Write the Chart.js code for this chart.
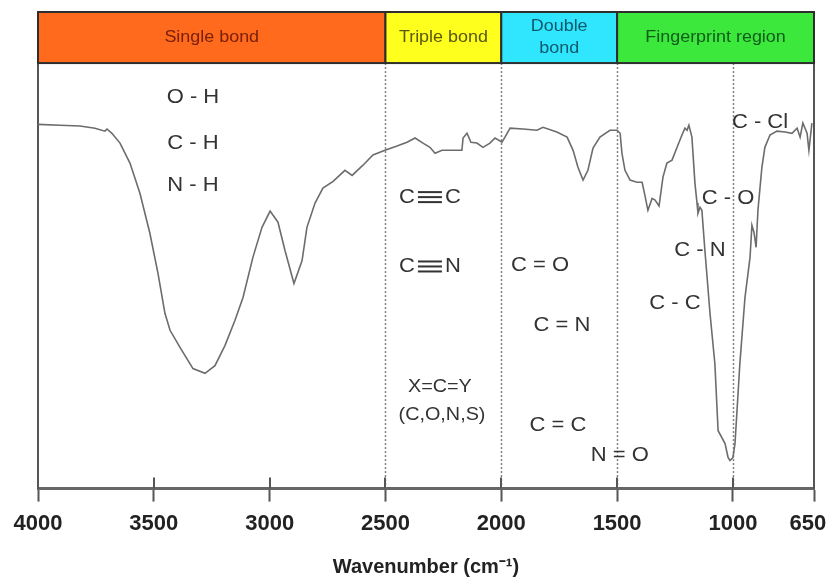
<!DOCTYPE html>
<html>
<head>
<meta charset="utf-8">
<script src="https://cdn.jsdelivr.net/npm/chart.js@4/dist/chart.umd.min.js"></script>
<style>
  html, body { margin: 0; padding: 0; background: #fff; }
  #irChart { display: block; }
</style>
</head>
<body>
<canvas id="irChart" width="832" height="585"></canvas>
<script>
// IR spectrum (transmittance in arbitrary %)
const wavenumbers = [4000, 3905, 3819, 3754, 3711, 3702, 3681, 3646, 3603, 3560, 3517, 3482, 3452, 3430, 3387, 3331, 3279, 3236, 3193, 3150,
  3115, 3072, 3033, 2998, 2964, 2934, 2895, 2860, 2839, 2804, 2770, 2726, 2675, 2644, 2597, 2554, 2502, 2450, 2407, 2372,
  2338, 2308, 2286, 2256, 2221, 2170, 2165, 2148, 2131, 2105, 2079, 2049, 2027, 1997, 1984, 1962, 1906, 1846, 1820, 1760,
  1716, 1690, 1669, 1647, 1626, 1604, 1574, 1531, 1500, 1487, 1479, 1466, 1444, 1414, 1392, 1380, 1367, 1349, 1336, 1319,
  1302, 1285, 1263, 1241, 1220, 1207, 1198, 1190, 1177, 1164, 1155, 1151, 1142, 1134, 1121, 1099, 1078, 1064, 1034, 1021,
  1013, 1000, 991, 970, 948, 926, 918, 909, 900, 892, 875, 862, 840, 810, 775, 745, 723, 710, 698, 680, 672, 659];
const transmittance = [85.6, 85.4, 85.2, 84.7, 84.0, 84.5, 83.5, 81.2, 76.5, 69.4, 60.0, 50.6, 41.2, 37.2, 33.2, 28.2, 27.1, 28.9, 33.6, 39.5,
  44.9, 54.4, 61.4, 65.2, 62.6, 56.0, 48.2, 53.6, 61.4, 67.1, 70.6, 72.2, 74.8, 73.6, 76.0, 78.4, 79.5, 80.5, 81.4, 82.4,
  81.2, 80.2, 78.8, 79.5, 79.5, 79.5, 82.4, 83.5, 81.4, 81.2, 80.2, 81.2, 82.4, 81.4, 82.6, 84.7, 84.5, 84.2, 84.9, 83.8,
  82.6, 79.5, 75.5, 72.5, 74.8, 80.0, 82.6, 84.2, 84.2, 83.5, 78.8, 74.8, 72.5, 72.0, 72.0, 68.9, 65.4, 68.2, 67.8, 66.4,
  73.2, 76.5, 77.2, 80.2, 83.1, 84.7, 84.2, 85.4, 82.6, 71.8, 67.1, 64.7, 66.1, 65.4, 56.0, 41.2, 29.4, 13.6, 10.6, 7.3,
  6.6, 7.3, 10.6, 29.4, 44.9, 54.4, 61.9, 60.2, 56.7, 65.4, 75.5, 80.2, 83.1, 84.0, 83.8, 83.5, 84.7, 82.6, 85.9, 83.5, 79.5, 85.9];

const xTicks = [4000, 3500, 3000, 2500, 2000, 1500, 1000, 650];
const dividers = [2500, 2000, 1500, 1000];

// Region bar across the top
const bandEdges = [4000, 2500, 2000, 1500, 650];
const bandNames = [["Single bond"], ["Triple bond"], ["Double", "bond"], ["Fingerprint region"]];
const bandColors = ["#ff6a1c", "#ffff1e", "#30e6ff", "#3ce83c"];
const bandTextColors = ["#7a200c", "#5a5812", "#0f5a6a", "#115c1c"];

// Bond labels (wavenumber, transmittance)
const bondText = ["O - H", "C - H", "N - H", "C ≡ C", "C ≡ N", "X=C=Y", "(C,O,N,S)", "C = O", "C = N", "C = C", "N = O",
  "C - Cl", "C - O", "C - N", "C - C"];
const bondX = [3331, 3331, 3331, 2308, 2308, 2265, 2256, 1833, 1738, 1755, 1488, 883, 1021, 1142, 1250];
const bondY = [92.0, 81.2, 71.3, 68.5, 52.2, 23.8, 17.2, 52.5, 38.4, 14.8, 7.8, 86.1, 68.2, 56.0, 43.5];

const points = wavenumbers.map((w, i) => ({ x: w, y: transmittance[i] }));

// draws text, stretching any "≡" sideways like the wide bars in the picture
function drawBondText(ctx, t, cx, cy) {
    const parts = t.split("≡");
    if (parts.length === 1) {
        ctx.save();
        ctx.translate(cx, cy);
        ctx.scale(1.1, 1);
        ctx.fillText(t, 0, 0);
        ctx.restore();
        return;
    }
    const left = parts[0].trim(), right = parts[1].trim();
    const wl = ctx.measureText(left).width * 1.1;
    const wr = ctx.measureText(right).width * 1.1;
    const barW = 24, gap = 3;
    const total = wl + gap + barW + gap + wr;
    const x0 = cx - total / 2;
    ctx.save();
    ctx.textAlign = "left";
    ctx.translate(x0, cy);
    ctx.scale(1.1, 1);
    ctx.fillText(left, 0, 0);
    ctx.restore();
    const bx = x0 + wl + gap;
    for (let k = -1; k <= 1; k++) {
        ctx.fillRect(bx, cy - 1 + k * 5, barW, 2);
    }
    ctx.save();
    ctx.textAlign = "left";
    ctx.translate(bx + barW + gap, cy);
    ctx.scale(1.1, 1);
    ctx.fillText(right, 0, 0);
    ctx.restore();
}

const overlay = {
    id: "overlay",
    beforeDatasetsDraw(chart) {
        const { ctx, scales: { x, y } } = chart;
        ctx.save();
        ctx.strokeStyle = "#808080";
        ctx.lineWidth = 1.5;
        ctx.setLineDash([2, 2]);
        dividers.forEach(v => {
            const px = Math.round(x.getPixelForValue(v)) + 0.5;
            ctx.beginPath();
            ctx.moveTo(px, y.getPixelForValue(100));
            ctx.lineTo(px, y.getPixelForValue(0));
            ctx.stroke();
        });
        ctx.restore();
    },
    afterDatasetsDraw(chart) {
        const { ctx, scales: { x, y } } = chart;
        const top = y.getPixelForValue(112);
        const bottom = y.getPixelForValue(100);

        // colored regions
        ctx.save();
        for (let i = 0; i < bandNames.length; i++) {
            const x1 = x.getPixelForValue(bandEdges[i]);
            const x2 = x.getPixelForValue(bandEdges[i + 1]);
            ctx.fillStyle = bandColors[i];
            ctx.fillRect(x1, top, x2 - x1, bottom - top);
            ctx.strokeStyle = "#2e2e2e";
            ctx.lineWidth = 2;
            ctx.strokeRect(x1, top, x2 - x1, bottom - top);

            ctx.fillStyle = bandTextColors[i];
            ctx.font = "16px 'Liberation Sans', Arial, sans-serif";
            ctx.textAlign = "center";
            ctx.textBaseline = "middle";
            const lines = bandNames[i];
            const cx = (x1 + x2) / 2;
            const cy = (top + bottom) / 2;
            lines.forEach((t, k) => {
                ctx.save();
                ctx.translate(cx, cy + (k - (lines.length - 1) / 2) * 22);
                ctx.scale(1.12, 1);
                ctx.fillText(t, 0, 0);
                ctx.restore();
            });
        }

        // upper half of the tick marks
        ctx.strokeStyle = "#555";
        ctx.lineWidth = 2;
        const axisY = y.getPixelForValue(0);
        xTicks.forEach(v => {
            const px = Math.round(x.getPixelForValue(v));
            ctx.beginPath();
            ctx.moveTo(px, axisY);
            ctx.lineTo(px, axisY - 11);
            ctx.stroke();
        });

        // bond labels
        ctx.fillStyle = "#333";
        ctx.textAlign = "center";
        ctx.textBaseline = "middle";
        bondText.forEach((t, i) => {
            ctx.font = (i === 5 || i === 6 ? "18px" : "20px") + " 'Liberation Sans', Arial, sans-serif";
            drawBondText(ctx, t, x.getPixelForValue(bondX[i]), y.getPixelForValue(bondY[i]));
        });
        ctx.restore();
    }
};

Chart.defaults.font.family = "'Liberation Sans', Arial, sans-serif";

new Chart(document.getElementById("irChart"), {
    type: "line",
    data: {
        datasets: [{
            data: points,
            borderColor: "#6c6c6c",
            borderWidth: 1.6,
            pointRadius: 0,
            tension: 0,
            fill: false
        }]
    },
    options: {
        responsive: false,
        animation: false,
        devicePixelRatio: 1,
        layout: { padding: { left: 38, right: 0, top: 12, bottom: 4 } },
        plugins: { legend: { display: false }, tooltip: { enabled: false } },
        scales: {
            x: {
                type: "linear",
                reverse: true,
                min: 650,
                max: 4000,
                afterBuildTicks: axis => { axis.ticks = xTicks.map(v => ({ value: v })); },
                afterFit: axis => { axis.paddingLeft = 0; axis.paddingRight = 18; },
                ticks: {
                    // the last label sits a little inside the right edge
                    callback: v => v === 650 ? "650\u00a0\u00a0" : String(v),
                    color: "#222",
                    font: { size: 22, weight: "bold" },
                    padding: 9,
                    maxRotation: 0,
                    autoSkip: false
                },
                grid: { drawOnChartArea: false, drawTicks: true, tickLength: 13, tickColor: "#555", tickWidth: 2 },
                border: { display: true, color: "#666", width: 3 },
                title: {
                    display: true,
                    text: "Wavenumber (cm⁻¹)",
                    color: "#222",
                    font: { size: 20, weight: "bold" },
                    padding: { top: 9, bottom: 2 }
                }
            },
            y: {
                min: 0,
                max: 112,
                ticks: { display: false },
                grid: { display: false, drawTicks: false },
                border: { display: true, color: "#555", width: 2 }
            },
            y2: {
                position: "right",
                min: 0,
                max: 112,
                ticks: { display: false },
                grid: { display: false, drawTicks: false },
                border: { display: true, color: "#555", width: 2 }
            }
        }
    },
    plugins: [overlay]
});
</script>
</body>
</html>
